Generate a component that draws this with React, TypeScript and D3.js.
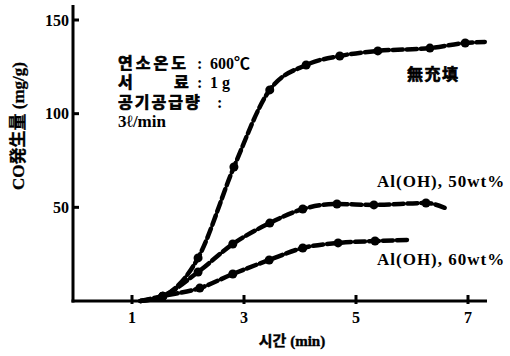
import React from "react";
import * as d3 from "d3";

// Time (min) and CO yield (mg/g) for each sample
const timeNone = [1.15, 1.55, 2.18, 2.82, 3.46, 4.11, 4.71, 5.39, 6.32, 6.95, 7.3];
const coNone = [0, 2.6, 23.0, 71.5, 112.7, 126, 130.8, 133.5, 135, 137.7, 138.3];

const time50 = [1.15, 1.55, 2.18, 2.8, 3.46, 4.05, 4.66, 5.32, 6.25, 6.59];
const co50 = [0, 2.6, 15.5, 30.4, 41.6, 49.1, 51.8, 51.3, 52.3, 49.7];

const time60 = [1.15, 1.55, 2.21, 2.8, 3.45, 4.05, 4.68, 5.34, 5.91];
const co60 = [0, 2.6, 6.9, 14.4, 21.9, 28.3, 31.0, 32.0, 32.6];

const xTicks = [1, 3, 5, 7];
const yTicks = [50, 100, 150];

const seriesLabels = ["無充填", "Al(OH), 50wt%", "Al(OH), 60wt%"];
const conditionLabels = ["연소온도", "서", "료", "공기공급량", "3ℓ/min"];
const conditionValues = ["600℃", "1 g"];

const W = 510;
const H = 356;
const ink = "#000";
const serif = "'Liberation Serif', 'Noto Sans CJK KR', serif";

export default function App() {
  const x = d3.scaleLinear().domain([0, 7]).range([76, 468]);
  const y = d3.scaleLinear().domain([0, 150]).range([301, 20]);
  const axisX0 = 73;
  const axisY0 = 301;

  const line = d3
    .line<[number, number]>()
    .x((d) => x(d[0]))
    .y((d) => y(d[1]))
    .curve(d3.curveMonotoneX);

  const series = [
    { t: timeNone, v: coNone },
    { t: time50, v: co50 },
    { t: time60, v: co60 },
  ];

  // faux-bold outline for the CJK glyphs, which have no bold face installed
  const heavy = { stroke: ink, strokeWidth: 0.7 };

  return (
    <svg width={W} height={H} style={{ position: "absolute", left: 0, top: 0, background: "#fff" }}>
      <rect x={0} y={0} width={W} height={H} fill="#fff" />
      {/* axes */}
      <line x1={axisX0} y1={5} x2={axisX0} y2={axisY0 + 1.5} stroke={ink} strokeWidth={3} />
      <line x1={axisX0 - 1.5} y1={axisY0} x2={487} y2={axisY0} stroke={ink} strokeWidth={3} />
      {yTicks.map((t) => (
        <g key={"y" + t}>
          <line x1={axisX0} x2={axisX0 + 6} y1={y(t)} y2={y(t)} stroke={ink} strokeWidth={3} />
          <text
            x={69}
            y={y(t)}
            dy="0.35em"
            textAnchor="end"
            fontFamily={serif}
            fontSize={16}
            fontWeight="bold"
            fill={ink}
          >
            {t}
          </text>
        </g>
      ))}
      {xTicks.map((t) => (
        <g key={"x" + t}>
          <line x1={x(t)} x2={x(t)} y1={axisY0 - 6} y2={axisY0 + 3} stroke={ink} strokeWidth={3} />
          <text
            x={x(t)}
            y={323}
            textAnchor="middle"
            fontFamily={serif}
            fontSize={16}
            fontWeight="bold"
            fill={ink}
          >
            {t}
          </text>
        </g>
      ))}

      {/* axis titles */}
      <text
        transform="translate(24,126) rotate(-90)"
        textAnchor="middle"
        fontFamily={serif}
        fontSize={17}
        fontWeight="bold"
        fill={ink}
        {...{ stroke: ink, strokeWidth: 0.3 }}
      >
        CO発生量 (mg/g)
      </text>
      <text
        x={292}
        y={346}
        textAnchor="middle"
        fontFamily={serif}
        fontSize={15}
        fontWeight="bold"
        fill={ink}
        {...{ stroke: ink, strokeWidth: 0.4 }}
      >
        시간 (min)
      </text>

      {/* curves */}
      {series.map((s, i) => {
        const pts = s.t.map((t, j) => [t, s.v[j]] as [number, number]);
        return (
          <g key={"s" + i}>
            <path
              d={line(pts) || ""}
              fill="none"
              stroke={ink}
              strokeWidth={4.5}
              strokeDasharray="10 4"
              strokeLinecap="round"
            />
            {pts.slice(1, -1).map((p, j) => (
              <circle key={j} cx={x(p[0])} cy={y(p[1])} r={4.5} fill={ink} />
            ))}
          </g>
        );
      })}

      {/* series labels */}
      <text x={407} y={80} fontFamily={serif} fontSize={16} fontWeight="bold" letterSpacing={1.5} fill={ink} {...heavy}>
        {seriesLabels[0]}
      </text>
      <text x={377} y={187} fontFamily={serif} fontSize={17} fontWeight="bold" letterSpacing={1} fill={ink}>
        {seriesLabels[1]}
      </text>
      <text x={377} y={265} fontFamily={serif} fontSize={17} fontWeight="bold" letterSpacing={1} fill={ink}>
        {seriesLabels[2]}
      </text>

      {/* test conditions */}
      <g fontFamily={serif} fontSize={16} fontWeight="bold" fill={ink}>
        <text x={118} y={69} letterSpacing={3} {...heavy}>{conditionLabels[0]}</text>
        <text x={197} y={69}>:</text>
        <text x={210} y={69}>{conditionValues[0]}</text>
        <text x={118} y={88} {...heavy}>{conditionLabels[1]}</text>
        <text x={174} y={88} {...heavy}>{conditionLabels[2]}</text>
        <text x={197} y={88}>:</text>
        <text x={210} y={88}>{conditionValues[1]}</text>
        <text x={118} y={108} letterSpacing={2} {...heavy}>{conditionLabels[3]}</text>
        <text x={217} y={108}>:</text>
        <text x={118} y={127} fontSize={17}>{conditionLabels[4]}</text>
      </g>
    </svg>
  );
}
